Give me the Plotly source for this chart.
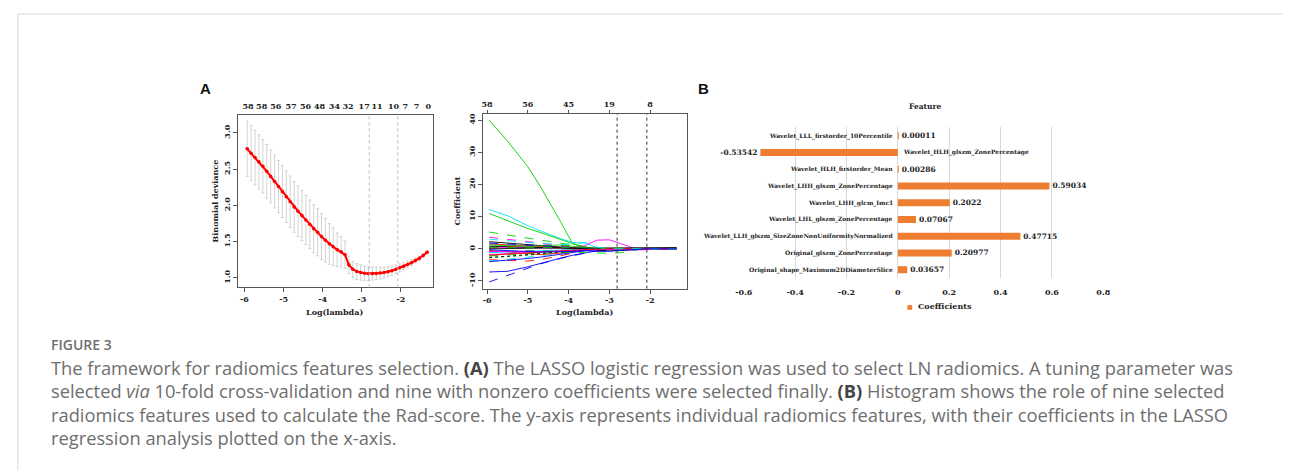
import plotly.graph_objects as go

W, H = 1290, 470

# ---------------- data: panel A (CV deviance) ----------------
cv_log_lambda = [-5.93, -5.83, -5.73, -5.63, -5.53, -5.43, -5.33, -5.23, -5.13, -5.03,
                 -4.93, -4.83, -4.73, -4.63, -4.53, -4.43, -4.33, -4.23, -4.13, -4.03,
                 -3.93, -3.83, -3.73, -3.63, -3.53, -3.43, -3.33, -3.23, -3.13, -3.03,
                 -2.93, -2.83, -2.73, -2.63, -2.53, -2.43, -2.33, -2.23, -2.13, -2.03,
                 -1.93, -1.83, -1.73, -1.63, -1.53, -1.43, -1.33]
cv_deviance = [2.78, 2.72, 2.66, 2.60, 2.54, 2.47, 2.40, 2.33, 2.26, 2.19,
               2.12, 2.05, 1.98, 1.92, 1.86, 1.80, 1.74, 1.68, 1.63, 1.57,
               1.52, 1.47, 1.43, 1.39, 1.36, 1.32, 1.18, 1.12, 1.09, 1.075,
               1.065, 1.06, 1.06, 1.062, 1.068, 1.075, 1.085, 1.10, 1.12, 1.14,
               1.16, 1.185, 1.21, 1.24, 1.27, 1.31, 1.355]
cv_sd = [0.38, 0.38, 0.375, 0.375, 0.37, 0.37, 0.365, 0.365, 0.36, 0.36,
         0.355, 0.355, 0.35, 0.35, 0.345, 0.34, 0.335, 0.33, 0.325, 0.32,
         0.30, 0.28, 0.26, 0.23, 0.21, 0.19, 0.12, 0.11, 0.11, 0.105,
         0.10, 0.095, 0.09, 0.085, 0.08, 0.075, 0.07, 0.065, 0.06, 0.055,
         0.05, 0.045, 0.04, 0.035, 0.03, 0.025, 0.02]
cv_top_pos = [-5.91, -5.56, -5.20, -4.81, -4.44, -4.08, -3.70, -3.35, -2.94, -2.61,
              -2.19, -1.89, -1.60, -1.30]
cv_top_labels = ["58", "58", "56", "57", "56", "48", "34", "32", "17", "11", "10", "7", "7", "0"]
cv_xticks = [-6, -5, -4, -3, -2]
cv_yticks = [1.0, 1.5, 2.0, 2.5, 3.0]
log_lambda_min = -2.81
log_lambda_1se = -2.08

# ---------------- data: panel A (coefficient paths) ----------------
coef_grid = [-5.95, -5.5, -5.0, -4.7, -4.2, -3.9, -3.6, -3.3, -3.0, -2.7, -2.4, -2.1, -1.8, -1.35]
coef_paths = [
    [40, 33.5, 25.5, 19.5, 8.5, 1.6, 0.3, 0, 0, 0, 0, 0, 0, 0],
    [12.2, 10.3, 7.2, 5.6, 3.2, 2.0, 1.8, 0.3, 0, 0, 0, 0, 0, 0],
    [11, 8.8, 6.3, 5.1, 3.0, 1.6, 0.6, 0, 0, 0, 0, 0, 0, 0],
    [5.2, 4.3, 3.3, 2.8, 1.9, 1.2, 0.5, 0, 0, 0, 0, 0, 0, 0],
    [-10.3, -8.3, -5.9, -4.7, -3.0, -2.1, -1.3, -0.5, 0, 0, 0, 0, 0, 0],
    [-7.2, -7.0, -5.6, -4.5, -2.9, -2.0, -1.2, -0.6, -0.3, -0.1, 0, 0, 0, 0],
    [0.5, 0.4, 0.3, 0.2, 0.1, 0.2, 1.0, 2.7, 2.8, 1.6, 0.2, 0, 0, 0],
    [-3.4, -3.6, -3.8, -3.4, -2.2, -1.4, -0.5, 0, 0, 0, 0, 0, 0, 0],
    [-3.8, -3.3, -2.6, -2.2, -1.4, -0.9, -0.4, 0, 0, 0, 0, 0, 0, 0],
    [3.6, 3.0, 2.3, 1.8, 1.0, 0.5, 0.2, 0, 0, 0, 0, 0, 0, 0],
    [2.2, 1.8, 1.3, 1.0, 0.5, 0.2, 0, 0, 0, 0, 0, 0, 0, 0],
    [-1.0, -0.8, -0.6, -0.5, -0.4, -0.4, -0.5, -0.6, -0.6, -0.4, -0.2, 0, 0, 0],
    [1.5, 1.2, 0.8, 0.6, 0.3, 0.1, 0, 0, 0, 0, 0, 0, 0, 0],
    [-0.5, -1.0, -1.6, -1.8, -1.3, -0.8, -0.4, 0, 0, 0, 0, 0, 0, 0],
    [-2.5, -2.4, -2.0, -1.6, -1.0, -0.5, -0.2, 0, 0, 0, 0, 0, 0, 0],
    [-4.0, -3.6, -3.0, -2.6, -1.6, -1.0, -0.6, -0.3, -0.1, 0, 0, 0, 0, 0],
    [-2.2, -1.8, -1.5, -1.3, -1.1, -1.0, -1.1, -1.3, -1.4, -1.2, -0.4, 0, 0, 0],
    [0.8, 0.7, 0.6, 0.4, 0.3, 0.2, 0.1, -0.3, -0.5, -0.5, -0.3, -0.1, 0.1, 0.2],
    [-1.8, -1.5, -1.1, -0.9, -0.5, -0.3, -0.1, 0, 0, 0, -0.3, -0.3, 0, 0],
    [0.2, 0.6, 1.0, 1.2, 1.0, 0.6, 0.2, 0, 0, 0, 0, 0, 0, 0],
    [1.2, 1.0, 0.8, 0.9, 1.2, 0.8, 0.3, 0, 0, 0, 0, 0, 0, 0],
    [1.8, 1.5, 1.2, 1.0, 0.6, 0.3, 0.1, 0, 0, 0, 0, 0, 0, 0],
    [-1.2, -1.0, -0.8, -0.65, -0.4, -0.2, 0, 0, 0, 0, 0, 0, 0, 0],
    [-2.8, -2.3, -1.8, -1.4, -0.9, -0.5, -0.2, 0, 0, 0, 0, 0, 0, 0],
    [-0.8, -0.9, -1.0, -0.9, -0.7, -0.5, -0.4, -0.3, -0.2, -0.1, 0, 0, 0, 0],
    [0, 0.1, 0.2, 0.3, 0.3, 0.2, 0.2, 0.2, 0.2, 0.3, 0.3, 0.3, 0.35, 0.4],
    [-2.0, -1.7, -1.4, -1.1, -0.7, -0.4, -0.2, 0, 0, 0, 0, 0, 0, 0],
    [0.4, 0.3, 0.3, 0.4, 0.5, 0.6, 0.5, 0.3, 0.2, 0.1, 0, 0, 0, 0],
    [3.0, 2.5, 2.0, 1.7, 1.3, 1.5, 2.0, 0.5, 0, 0, 0, 0, 0, 0],
    [-0.3, -0.5, -0.8, -1.0, -0.9, -0.7, -0.6, -0.8, -0.8, -0.5, -0.2, 0, 0, 0],
]
coef_top_pos = [-6, -5, -4, -3, -2]
coef_top_labels = ["58", "56", "45", "19", "8"]
coef_yticks = [-10, 0, 10, 20, 30, 40]

# ---------------- data: panel B ----------------
feature_names = [
    "Wavelet_LLL_firstorder_10Percentile",
    "Wavelet_HLH_glszm_ZonePercentage",
    "Wavelet_HLH_firstorder_Mean",
    "Wavelet_LHH_glszm_ZonePercentage",
    "Wavelet_LHH_glcm_Imc1",
    "Wavelet_LHL_glszm_ZonePercentage",
    "Wavelet_LLH_glszm_SizeZoneNonUniformityNormalized",
    "Original_glszm_ZonePercentage",
    "Original_shape_Maximum2DDiameterSlice",
]
feature_coefs = [0.00011, -0.53542, 0.00286, 0.59034, 0.2022, 0.07067, 0.47715, 0.20977, 0.03657]
b_ticks = [-0.6, -0.4, -0.2, 0, 0.2, 0.4, 0.6, 0.8]

# ---------------- styles ----------------
R_COLS = {"k": "#000000", "r": "#FF0000", "g": "#00CD00", "b": "#0000FF", "c": "#00E5EE", "m": "#FF00FF"}
path_colors = ["g", "c", "g", "g", "b", "b", "m", "r", "c", "m", "k", "k", "r", "r", "g",
               "b", "g", "k", "m", "r", "g", "b", "c", "k", "m", "k", "r", "g", "c", "b"]
path_dashes = ["solid", "solid", "solid", "dash", "dash", "solid", "solid", "dash", "dash", "dash",
               "solid", "dash", "solid", "solid", "dot", "solid", "dash", "solid", "solid", "dash",
               "solid", "dash", "solid", "dot", "solid", "solid", "solid", "dash", "dash", "solid"]

SERIF = "DejaVu Serif"
TXT = "#222222"
ORANGE = "#ED7D31"


def fx(p):
    return p / W


def fy(p):
    return 1 - p / H


def fmt(v):
    if v == 0:
        return "0"
    return "%g" % v


fig = go.Figure()

# Panel A1: CV curve
fig.add_trace(go.Scatter(
    x=cv_log_lambda, y=cv_deviance, mode="lines+markers",
    line=dict(color="#FF0000", width=2),
    marker=dict(color="#FF0000", size=3.6),
    error_y=dict(type="data", array=cv_sd, color="#C8C8C8", thickness=0.8, width=1.5),
    xaxis="x", yaxis="y", showlegend=False, hoverinfo="skip"))
fig.add_trace(go.Scatter(x=[cv_top_pos[0]], y=[cv_deviance[0]], mode="markers",
                         marker=dict(opacity=0), xaxis="x2", yaxis="y",
                         showlegend=False, hoverinfo="skip"))

# Panel A2: coefficient paths
for vals, c, d in zip(coef_paths, path_colors, path_dashes):
    fig.add_trace(go.Scatter(x=coef_grid, y=vals, mode="lines",
                             line=dict(color=R_COLS[c], width=0.9, dash=d),
                             xaxis="x3", yaxis="y3", showlegend=False, hoverinfo="skip"))
fig.add_trace(go.Scatter(x=[coef_grid[0]], y=[0], mode="markers", marker=dict(opacity=0),
                         xaxis="x4", yaxis="y3", showlegend=False, hoverinfo="skip"))

# Panel B: bars
fig.add_trace(go.Bar(
    y=feature_names, x=feature_coefs, orientation="h", width=0.42,
    marker=dict(color=ORANGE, line=dict(width=0)),
    text=[fmt(v) for v in feature_coefs], textposition="outside", constraintext="none",
    textfont=dict(family=SERIF, size=7.5, color=TXT, weight="bold"),
    cliponaxis=False, xaxis="x5", yaxis="y5", showlegend=False, hoverinfo="skip"))

tickfont_r = dict(family=SERIF, size=8, color=TXT, weight="bold")

axA = dict(showgrid=False, zeroline=False, showline=True, linecolor="#555555", linewidth=1,
           mirror=True, ticks="outside", ticklen=4, tickcolor="#555555", tickfont=tickfont_r)

cv_xrange = [-6.17, -1.18]
coef_xrange = [-6.10, -1.09]

fig.update_layout(
    width=W, height=H, margin=dict(l=0, r=0, t=0, b=0),
    paper_bgcolor="white", plot_bgcolor="white",
    xaxis=dict(axA, domain=[fx(231.7), fx(429.3)], range=cv_xrange, anchor="y",
               tickvals=cv_xticks, ticktext=[str(v) for v in cv_xticks]),
    yaxis=dict(axA, domain=[fy(287), fy(114)], range=[0.87, 3.25], anchor="x",
               tickvals=cv_yticks, ticktext=["%.1f" % v for v in cv_yticks], tickangle=-90),
    xaxis2=dict(overlaying="x", side="top", range=cv_xrange, anchor="y", showgrid=False,
                zeroline=False, showline=False, ticks="outside", ticklen=2, tickangle=0,
                tickcolor="rgba(0,0,0,0)", tickvals=cv_top_pos, ticktext=cv_top_labels,
                tickfont=tickfont_r),
    xaxis3=dict(axA, domain=[fx(480), fx(686.7)], range=coef_xrange, anchor="y3",
                tickvals=cv_xticks, ticktext=[str(v) for v in cv_xticks]),
    yaxis3=dict(axA, domain=[fy(288.3), fy(113.3)], range=[-12.4, 41.9], anchor="x3",
                tickvals=coef_yticks, ticktext=[str(v) for v in coef_yticks], tickangle=-90),
    xaxis4=dict(overlaying="x3", side="top", range=coef_xrange, anchor="y3", showgrid=False,
                zeroline=False, showline=False, ticks="outside", ticklen=3, tickangle=0,
                tickcolor="#555555", tickvals=coef_top_pos, ticktext=coef_top_labels,
                tickfont=tickfont_r),
    xaxis5=dict(domain=[fx(744), fx(1108)], range=[-0.6, 0.8], anchor="y5",
                showgrid=True, gridcolor="#D9D9D9", gridwidth=1, zeroline=False, showline=False,
                tickvals=b_ticks, ticktext=[fmt(v) for v in b_ticks], tickangle=0,
                ticks="outside", ticklen=6, tickcolor="rgba(0,0,0,0)", tickfont=tickfont_r),
    yaxis5=dict(domain=[fy(277.7), fy(126.6)], anchor="x5", type="category",
                categoryorder="array", categoryarray=feature_names, autorange="reversed",
                showticklabels=False, showgrid=False, zeroline=False, showline=False, ticks=""),
)

ann = []
# feature labels next to zero
for name, v in zip(feature_names, feature_coefs):
    ann.append(dict(x=0, y=name, xref="x5", yref="y5", text=name, showarrow=False,
                    xanchor="right" if v >= 0 else "left", xshift=-3 if v >= 0 else 3,
                    font=dict(family=SERIF, size=6, color=TXT, weight="bold")))

ann += [
    dict(x=fx(330), y=fy(311.5), text="Log(lambda)", font=dict(family=SERIF, size=8, color=TXT, weight="bold")),
    dict(x=fx(208.5), y=fy(200), text="Binomial deviance", textangle=-90,
         font=dict(family=SERIF, size=8, color=TXT, weight="bold")),
    dict(x=fx(583), y=fy(311.5), text="Log(lambda)", font=dict(family=SERIF, size=8, color=TXT, weight="bold")),
    dict(x=fx(453.5), y=fy(200), text="Coefficient", textangle=-90,
         font=dict(family=SERIF, size=8, color=TXT, weight="bold")),
    dict(x=fx(928), y=fy(106), text="Feature", font=dict(family=SERIF, size=7.5, color=TXT, weight="bold")),
    dict(x=fx(912), y=fy(306), text="■", font=dict(family="DejaVu Sans", size=6, color=ORANGE)),
    dict(x=fx(918), y=fy(306), text="Coefficients", xanchor="left",
         font=dict(family=SERIF, size=8, color=TXT, weight="bold")),
    dict(x=fx(199), y=fy(88), text="A", font=dict(family="Liberation Sans", size=15, color="#111111", weight="bold")),
    dict(x=fx(703), y=fy(88), text="B", font=dict(family="Liberation Sans", size=15, color="#111111", weight="bold")),
]

# caption
CAP = dict(family="Open Sans", size=18.3, color="#6E6E6E")
cap_lines = [
    "The framework for radiomics features selection. <b style='color:#444'>(A)</b> The LASSO logistic regression was used to select LN radiomics. A tuning parameter was",
    "selected <i>via</i> 10-fold cross-validation and nine with nonzero coefficients were selected finally. <b style='color:#444'>(B)</b> Histogram shows the role of nine selected",
    "radiomics features used to calculate the Rad-score. The y-axis represents individual radiomics features, with their coefficients in the LASSO",
    "regression analysis plotted on the x-axis.",
]
cap_y = [367, 390.5, 414, 437.5]
ann.append(dict(x=fx(40), y=fy(344), text="FIGURE 3", xanchor="left",
                font=dict(family="Open Sans", size=14, color="#6E6E6E", weight=600)))
for line, yy in zip(cap_lines, cap_y):
    ann.append(dict(x=fx(40), y=fy(yy), text=line, xanchor="left", font=CAP))

for a in ann:
    a.setdefault("xref", "paper")
    a.setdefault("yref", "paper")
    a.setdefault("showarrow", False)
    a.setdefault("yanchor", "middle")
    a.setdefault("xanchor", "center")
fig.update_layout(annotations=ann)

shapes = [
    dict(type="line", xref="paper", yref="paper", x0=fx(9), x1=1, y0=fy(13), y1=fy(13),
         line=dict(color="#D8D8D8", width=1)),
    dict(type="line", xref="paper", yref="paper", x0=fx(9), x1=fx(9), y0=fy(13), y1=0,
         line=dict(color="#D8D8D8", width=1)),
]
for v in (log_lambda_min, log_lambda_1se):
    shapes.append(dict(type="line", xref="x", yref="y domain", x0=v, x1=v, y0=0, y1=1,
                       line=dict(color="#BBBBBB", width=1, dash="dot")))
    shapes.append(dict(type="line", xref="x3", yref="y3 domain", x0=v, x1=v, y0=0, y1=1,
                       line=dict(color="#333333", width=1, dash="dot")))
fig.update_layout(shapes=shapes)

fig.write_html("out.html", config={"displayModeBar": False},
               post_script="document.body.style.margin='0';document.body.style.padding='0';")
